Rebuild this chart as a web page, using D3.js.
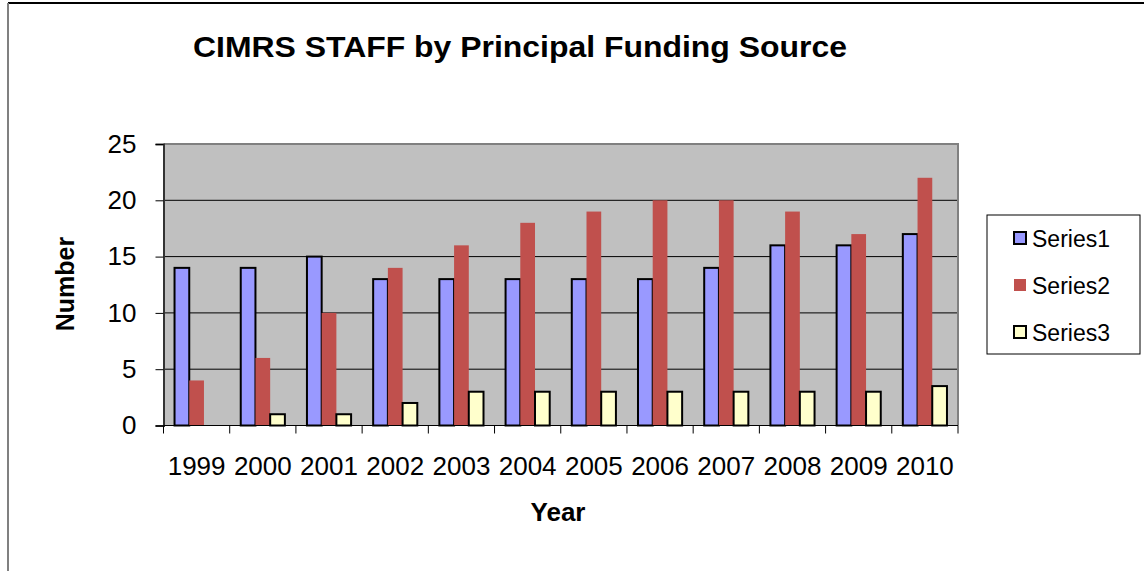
<!DOCTYPE html>
<html>
<head>
<meta charset="utf-8">
<script src="https://cdn.jsdelivr.net/npm/d3@7"></script>
<style>
  html, body { margin: 0; padding: 0; background: #fff; }
  svg { display: block; font-family: 'Liberation Sans', Arial, sans-serif; }
</style>
</head>
<body>
<svg id="chart" width="1144" height="571"></svg>
<script>
const years = ['1999', '2000', '2001', '2002', '2003', '2004', '2005', '2006', '2007', '2008', '2009', '2010'];
const series1 = [14, 14, 15, 13, 13, 13, 13, 13, 14, 16, 16, 17];
const series2 = [4, 6, 10, 14, 16, 18, 19, 20, 20, 19, 17, 22];
const series3 = [0, 1, 1, 2, 3, 3, 3, 3, 3, 3, 3, 3.5];
const seriesNames = ['Series1', 'Series2', 'Series3'];
const yTicks = [0, 5, 10, 15, 20, 25];

const colors = ['#9999FF', '#C0504D', '#FFFFCC'];
const strokes = ['#000', 'none', '#000'];

const svg = d3.select('#chart');
const plot = {left: 163.5, right: 958, top: 144, bottom: 425.5};

// outer chart frame (only top and left edges are visible)
svg.append('line').attr('x1', 8).attr('x2', 1144).attr('y1', 3).attr('y2', 3)
  .attr('stroke', '#000').attr('stroke-width', 2);
svg.append('line').attr('x1', 8).attr('x2', 8).attr('y1', 3).attr('y2', 571)
  .attr('stroke', '#808080').attr('stroke-width', 2);

const x = d3.scaleBand().domain(years).range([plot.left, plot.right]).paddingInner(0).paddingOuter(0);
const y = d3.scaleLinear().domain([0, 25]).range([plot.bottom, plot.top]);

// plot background
svg.append('rect')
  .attr('x', plot.left).attr('y', plot.top)
  .attr('width', plot.right - plot.left).attr('height', plot.bottom - plot.top)
  .attr('fill', '#C0C0C0');

// gridlines
svg.append('g').selectAll('line')
  .data(yTicks.filter(d => d > 0 && d < 25))
  .join('line')
  .attr('x1', plot.left).attr('x2', plot.right)
  .attr('y1', d => y(d)).attr('y2', d => y(d))
  .attr('stroke', '#000').attr('stroke-width', 1);

// top and right border of plot area
svg.append('path')
  .attr('d', `M${plot.left},${plot.top}H${plot.right}V${plot.bottom}`)
  .attr('fill', 'none').attr('stroke', '#808080').attr('stroke-width', 2);

// bars
const bw = x.bandwidth() / 4.5;
const offset = (x.bandwidth() - 3 * bw) / 2;
const allSeries = [series1, series2, series3];
allSeries.forEach((vals, si) => {
  svg.append('g').selectAll('rect')
    .data(vals.map((v, i) => ({year: years[i], v})).filter(d => d.v > 0))
    .join('rect')
    .attr('x', d => x(d.year) + offset + si * bw)
    .attr('y', d => y(d.v))
    .attr('width', bw)
    .attr('height', d => y(0) - y(d.v))
    .attr('fill', colors[si])
    .attr('stroke', strokes[si])
    .attr('stroke-width', 2);
});

// y axis
const yAxis = d3.axisLeft(y).tickValues(yTicks).tickSize(8).tickPadding(19);
const yg = svg.append('g').attr('transform', `translate(${plot.left},0)`).call(yAxis);
yg.select('.domain').attr('stroke', '#333').attr('stroke-width', 2);
yg.selectAll('.tick line').attr('stroke', '#000');
yg.selectAll('.tick text').attr('font-size', 26).attr('fill', '#000')
  .attr('font-family', "'Liberation Sans', Arial, sans-serif");

// x axis: ticks at category boundaries
svg.append('line').attr('x1', plot.left).attr('x2', plot.right)
  .attr('y1', plot.bottom).attr('y2', plot.bottom).attr('stroke', '#000').attr('stroke-width', 1);
svg.append('g').selectAll('line')
  .data(years.concat(['end']))
  .join('line')
  .attr('x1', (d, i) => plot.left + i * x.bandwidth())
  .attr('x2', (d, i) => plot.left + i * x.bandwidth())
  .attr('y1', plot.bottom).attr('y2', plot.bottom + 8)
  .attr('stroke', '#000');
svg.append('g').selectAll('text')
  .data(years)
  .join('text')
  .attr('x', d => x(d) + x.bandwidth() / 2)
  .attr('y', 475)
  .attr('text-anchor', 'middle')
  .attr('font-size', 26)
  .text(d => d);

// titles
svg.append('text').attr('x', 193).attr('y', 57)
  .attr('font-size', 30).attr('font-weight', 'bold')
  .attr('textLength', 654).attr('lengthAdjust', 'spacingAndGlyphs')
  .text('CIMRS STAFF by Principal Funding Source');
svg.append('text').attr('x', 558).attr('y', 521).attr('text-anchor', 'middle')
  .attr('font-size', 26).attr('font-weight', 'bold').text('Year');
svg.append('text').attr('transform', 'translate(74,284) rotate(-90)')
  .attr('text-anchor', 'middle')
  .attr('font-size', 25).attr('font-weight', 'bold').text('Number');

// legend
const legend = svg.append('g');
legend.append('rect').attr('x', 987).attr('y', 215).attr('width', 153).attr('height', 139)
  .attr('fill', '#fff').attr('stroke', '#000').attr('stroke-width', 1);
seriesNames.forEach((name, i) => {
  const cy = 238 + i * 47;
  legend.append('rect').attr('x', 1014).attr('y', cy - 6).attr('width', 12).attr('height', 12)
    .attr('fill', colors[i]).attr('stroke', strokes[i]).attr('stroke-width', 2);
  legend.append('text').attr('x', 1032).attr('y', cy + 8.5)
    .attr('font-size', 23).text(name);
});
</script>
</body>
</html>
